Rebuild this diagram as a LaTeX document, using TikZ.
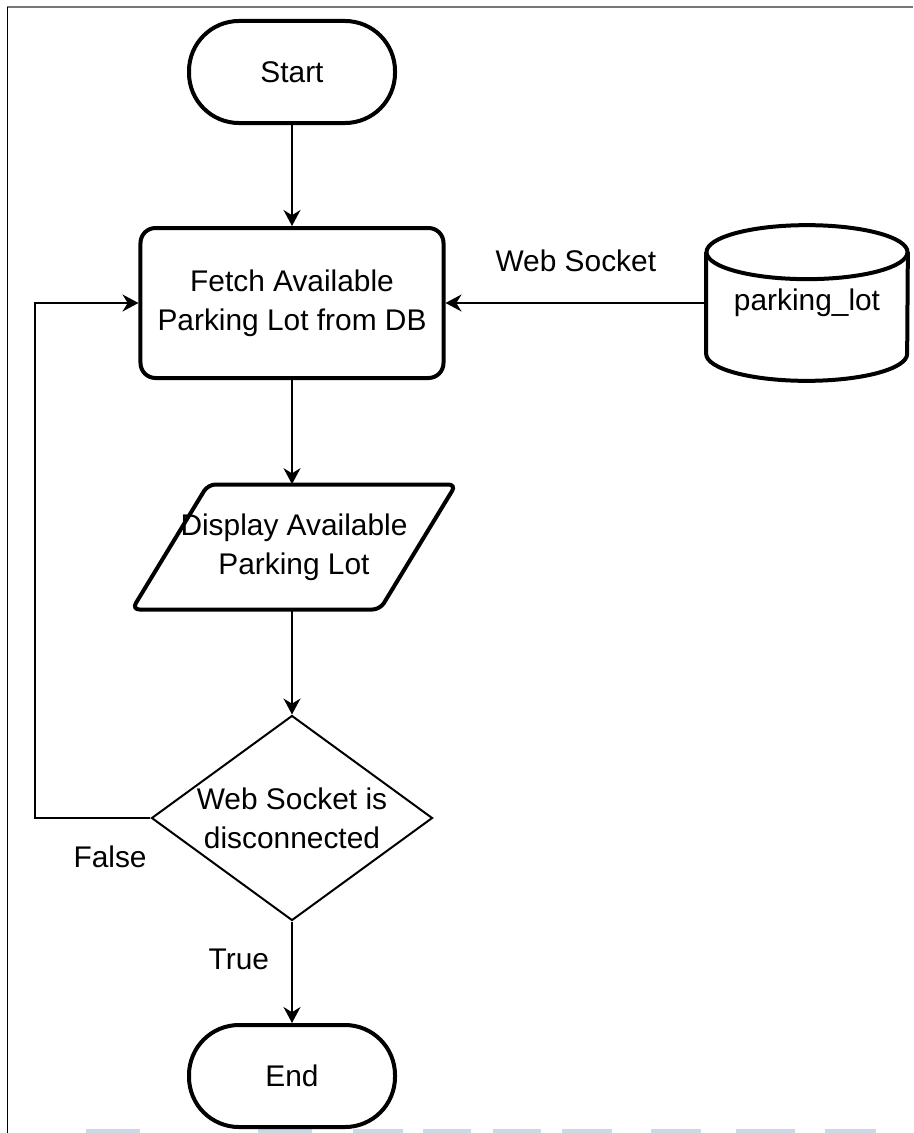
\documentclass[tikz,border=0pt]{standalone}
\usepackage{fontspec}
\setmainfont{Liberation Sans}
\usetikzlibrary{arrows.meta,shapes.geometric}
\definecolor{frameline}{RGB}{120,120,120}
\definecolor{pageblue}{RGB}{204,216,230}
\tikzset{
  >={Stealth[length=3.2mm,width=3.4mm]},
  every node/.style={font=\fontsize{17}{22}\selectfont},
  terminal/.style={draw,line width=0.8mm,rounded corners=10mm,
    minimum width=41.2mm,minimum height=20.4mm},
  process/.style={draw,line width=0.8mm,rounded corners=3mm,
    minimum width=60.6mm,minimum height=30mm,align=center},
  % text holders, outline drawn by hand
  io/.style={minimum width=34mm,minimum height=25mm,align=center},
  store/.style={minimum width=40.2mm,minimum height=20.2mm},
  outline/.style={line width=0.8mm},
  decision/.style={diamond,draw,line width=0.4mm,aspect=1.37,inner sep=0pt,
    minimum width=56.2mm,minimum height=41mm,align=center},
  flow/.style={->,line width=0.4mm},
  tag/.style={inner sep=0pt},
}
\begin{document}
\begin{tikzpicture}[x=0.2mm,y=-0.2mm]
  \useasboundingbox (0,0) rectangle (913,1133);
  % page edges
  \draw[frameline,line width=0.4mm] (7,7) -- (913,7);
  \draw[line width=0.2mm] (7,7) -- (7,1133);
  \foreach \a/\b in {86/140,258/312,353/403,423/471,493/541,562/612,651/701,736/795,825/876}
    \fill[pageblue] (\a,1129) rectangle (\b,1133);

  \node[terminal] (start) at (292,72) {Start};
  \node[process] (fetch) at (292,303) {Fetch Available\\Parking Lot from DB};
  \node[store] (db) at (807,303) {parking\_lot};
  \draw[outline] (db.north west) -- (db.south west)
    arc[start angle=180,end angle=360,x radius=20.1mm,y radius=5.4mm] -- (db.north east);
  \draw[outline] (db.north) ellipse[x radius=20.1mm,y radius=5.4mm];
  \node[io] (disp) at (294,547) {Display Available\\Parking Lot};
  \draw[outline,rounded corners=1.5mm,shift={(disp.center)}]
    (-162,62.5) -- (-86,-62.5) -- (162,-62.5) -- (86,62.5) -- cycle;
  \node[decision] (dec) at (292,818) {Web Socket is\\disconnected};
  \node[terminal] (end) at (292,1076) {End};
  \coordinate (back) at (35,818);

  \draw[flow] (db.west) -- node[tag,midway,above=6mm] {Web Socket} (fetch);
  \draw[flow] (start) -- (fetch);
  \draw[flow] (fetch) -- (fetch |- disp.north);
  \draw[flow] (fetch |- disp.south) -- (dec);
  \draw[flow] (dec) -- node[tag,pos=0.37,left=4.4mm] {True} (end);
  \draw[flow] (dec.west) -- node[tag,pos=0.35,below=5.4mm] {False} (back) |- (fetch.west);
\end{tikzpicture}
\end{document}
